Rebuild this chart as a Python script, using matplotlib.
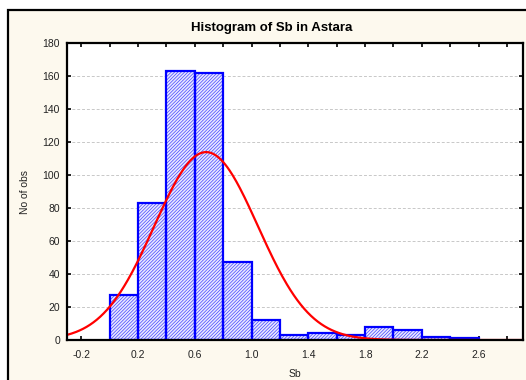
import numpy as np
import matplotlib
matplotlib.use("Agg")
import matplotlib.pyplot as plt
from matplotlib.patches import Rectangle

# Data
bin_edges = [0.0, 0.2, 0.4, 0.6, 0.8, 1.0, 1.2, 1.4, 1.6, 1.8, 2.0, 2.2, 2.4, 2.6]
counts = [27, 83, 163, 162, 47, 12, 3, 4, 3, 8, 6, 2, 1]
fit_mean = 0.68
fit_sd = 0.365
n_obs = sum(counts)
bin_width = 0.2
x_ticks = [-0.2, 0.2, 0.6, 1.0, 1.4, 1.8, 2.2, 2.6]
x_tick_labels = ["-0.2", "0.2", "0.6", "1.0", "1.4", "1.8", "2.2", "2.6"]
y_ticks = [0, 20, 40, 60, 80, 100, 120, 140, 160, 180]

plt.rcParams['font.family'] = ['Liberation Sans', 'DejaVu Sans']
plt.rcParams['hatch.linewidth'] = 0.5

W, H = 526, 380
fig = plt.figure(figsize=(W / 100, H / 100), dpi=100, facecolor='white')

# cream panel with border (right/bottom clipped)
panel = Rectangle((8 / W, -0.2), 1.2, 1.2 - 10 / H, transform=fig.transFigure,
                  facecolor='#FDF9EE', edgecolor='black', linewidth=1.6, zorder=-10)
fig.patches.append(panel)

ax = fig.add_axes([67 / W, (H - 340) / H, (523 - 67) / W, (340 - 43) / H])
ax.set_zorder(5)
ax.set_facecolor('white')

lefts = bin_edges[:-1]
ax.bar(lefts, counts, width=bin_width, align='edge', facecolor='#E8E8FF',
       edgecolor='#4444FF', hatch='//////////', linewidth=0, zorder=2)
ax.bar(lefts, counts, width=bin_width, align='edge', fill=False,
       edgecolor='#0000FF', linewidth=1.6, zorder=3)

xs = np.linspace(-0.3, 2.92, 400)
ys = n_obs * bin_width / (fit_sd * np.sqrt(2 * np.pi)) * np.exp(-0.5 * ((xs - fit_mean) / fit_sd) ** 2)
ax.plot(xs, ys, color='#FF0000', linewidth=1.6, zorder=4)

ax.set_xlim(-0.3, 2.913)
ax.set_ylim(0, 180)
ax.set_yticks(y_ticks)
ax.set_xticks(x_ticks)
ax.set_xticklabels(x_tick_labels)
ax.set_xticks(np.arange(-0.2, 2.81, 0.2), minor=True)
ax.yaxis.grid(True, color='#C8C8C8', linestyle=(0, (3, 2)), linewidth=0.7, zorder=1)
ax.set_axisbelow(True)

ax.tick_params(axis='both', which='both', direction='in', length=3, width=1.2,
               top=True, right=True, labelsize=7.5, colors='black')
ax.tick_params(axis='both', labelcolor='#222222')
ax.tick_params(axis='y', pad=5)
ax.tick_params(axis='x', pad=7)
for s in ax.spines.values():
    s.set_linewidth(1.6)
    s.set_zorder(5)

ax.set_xlabel('Sb', fontsize=7.5, labelpad=7, color='#222222')
ax.set_ylabel('No of obs', fontsize=7.5, labelpad=9, color='#222222')
fig.text(272 / W, 1 - 28 / H, 'Histogram of Sb in Astara', ha='center', va='center',
         fontsize=9.5, fontweight='bold')

fig.savefig('out.png', dpi=100, facecolor='white')
